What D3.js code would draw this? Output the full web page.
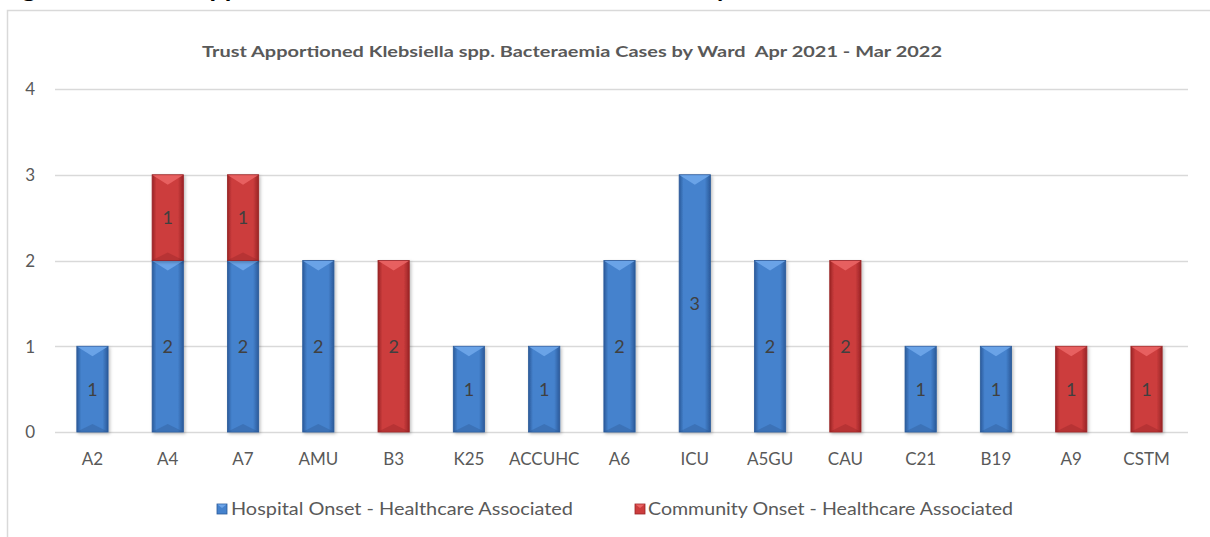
<!DOCTYPE html>
<html>
<head>
<meta charset="utf-8">
<script src="https://cdn.jsdelivr.net/npm/d3@7/dist/d3.min.js"></script>
<style>
  html, body { margin: 0; padding: 0; background: #fff; }
  svg { display: block; }
  text { font-family: Lato, "Liberation Sans", sans-serif; }
</style>
</head>
<body>
<svg id="chart" width="1210" height="537"></svg>
<script>
// Klebsiella spp. bacteraemia cases per ward, Apr 2021 - Mar 2022
const wards = ["A2", "A4", "A7", "AMU", "B3", "K25", "ACCUHC", "A6", "ICU", "A5GU", "CAU", "C21", "B19", "A9", "CSTM"];
const hospitalOnset  = [1, 2, 2, 2, 0, 1, 1, 2, 3, 2, 0, 1, 1, 0, 0];
const communityOnset = [0, 1, 1, 0, 2, 0, 0, 0, 0, 0, 2, 0, 0, 1, 1];
const seriesNames = ["Hospital Onset - Healthcare Associated", "Community Onset - Healthcare Associated"];
const yTicks = [0, 1, 2, 3, 4];

const svg = d3.select("#chart");
const W = 1210;
const margin = { left: 55, right: 22 };

// Palettes: bar edge, bar centre, top bevel highlight, bottom bevel shade
const palettes = [
  { edge: "#2b5a9a", mid: "#4582cd", light: "#6ea6ea", dark: "#2a5690" },
  { edge: "#9a2426", mid: "#cc3d3d", light: "#ea6464", dark: "#8e2224" }
];

const defs = svg.append("defs");
palettes.forEach((p, i) => {
  const g = defs.append("linearGradient").attr("id", "grad" + i)
    .attr("x1", "0").attr("x2", "1").attr("y1", "0").attr("y2", "0");
  g.append("stop").attr("offset", "0").attr("stop-color", p.edge);
  g.append("stop").attr("offset", "0.14").attr("stop-color", p.mid);
  g.append("stop").attr("offset", "0.82").attr("stop-color", p.mid);
  g.append("stop").attr("offset", "1").attr("stop-color", p.edge);
});
const shadow = defs.append("filter").attr("id", "shadow")
  .attr("x", "-30%").attr("y", "-10%").attr("width", "160%").attr("height", "130%");
shadow.append("feDropShadow").attr("dx", 1.5).attr("dy", 1.5).attr("stdDeviation", 1.5)
  .attr("flood-color", "#000").attr("flood-opacity", 0.25);

// Page heading running off the top edge
svg.append("text")
  .attr("x", 0).attr("y", -3)
  .attr("font-size", 24).attr("font-weight", "bold").attr("fill", "#000")
  .attr("textLength", 800).attr("lengthAdjust", "spacingAndGlyphs")
  .text("Figure 12: Trust Apportioned Klebsiella Bacteraemia Cases by Ward");

// Chart frame
svg.append("rect")
  .attr("x", 7.5).attr("y", 10.5).attr("width", 1220).attr("height", 600)
  .attr("fill", "#fff").attr("stroke", "#d9d9d9").attr("stroke-width", 1.5);

// Title
svg.append("text")
  .attr("x", 572).attr("y", 57)
  .attr("text-anchor", "middle")
  .attr("font-size", 16).attr("font-weight", "bold").attr("fill", "#595959")
  .attr("textLength", 740).attr("lengthAdjust", "spacingAndGlyphs")
  .text("Trust Apportioned Klebsiella spp. Bacteraemia Cases by Ward\u00a0\u00a0Apr 2021 - Mar 2022");

const x = d3.scaleBand().domain(wards)
  .range([margin.left, W - margin.right - 4]).paddingInner(0.585).paddingOuter(0.29);
const y = d3.scaleLinear().domain([0, 4]).range([432, 89]);

// Gridlines
svg.append("g").selectAll("line").data(yTicks).join("line")
  .attr("x1", margin.left).attr("x2", 1188)
  .attr("y1", d => Math.round(y(d)) + 0.5).attr("y2", d => Math.round(y(d)) + 0.5)
  .attr("stroke", "#d9d9d9").attr("stroke-width", 1.5);

// Y axis labels
const yAxis = d3.axisLeft(y).tickValues(yTicks).tickSize(0).tickPadding(0).tickFormat(d3.format("d"));
const yg = svg.append("g").attr("transform", "translate(35,0)").call(yAxis);
yg.select(".domain").remove();
yg.selectAll("text").attr("font-size", 17).attr("fill", "#595959")
  .attr("font-family", "Lato, sans-serif").attr("dy", "0.35em");

// X axis labels
const xAxis = d3.axisBottom(x).tickSize(0).tickPadding(0);
const xg = svg.append("g").attr("transform", "translate(0,453)").call(xAxis);
xg.select(".domain").remove();
xg.selectAll("text").attr("font-size", 17).attr("fill", "#595959")
  .attr("font-family", "Lato, sans-serif").attr("dy", "0.71em");

// Stacked data
const rows = wards.map((w, i) => ({ ward: w, h: hospitalOnset[i], c: communityOnset[i] }));
const layers = d3.stack().keys(["h", "c"])(rows);

const bw = x.bandwidth();
layers.forEach((layer, si) => {
  const p = palettes[si];
  const segs = layer.filter(d => d[1] - d[0] > 0).map(d => ({
    x0: x(d.data.ward), y0: y(d[1]), y1: y(d[0]), v: d[1] - d[0]
  }));
  const g = svg.append("g");
  const seg = g.selectAll("g").data(segs).join("g");
  seg.append("rect")
    .attr("x", d => d.x0).attr("y", d => d.y0)
    .attr("width", bw).attr("height", d => d.y1 - d.y0)
    .attr("fill", "url(#grad" + si + ")")
    .attr("stroke", p.edge).attr("stroke-width", 0.8)
    .attr("filter", "url(#shadow)");
  // top bevel
  seg.append("path")
    .attr("d", d => `M${d.x0 + 0.5},${d.y0 + 0.5} L${d.x0 + bw - 0.5},${d.y0 + 0.5} L${d.x0 + bw / 2},${d.y0 + 10} Z`)
    .attr("fill", p.light).attr("opacity", 0.9);
  // bottom bevel shade
  seg.append("path")
    .attr("d", d => `M${d.x0 + 0.5},${d.y1 - 0.5} L${d.x0 + bw - 0.5},${d.y1 - 0.5} L${d.x0 + bw / 2},${d.y1 - 8} Z`)
    .attr("fill", p.dark).attr("opacity", 0.35);
  // value labels
  seg.append("text")
    .attr("x", d => d.x0 + bw / 2).attr("y", d => (d.y0 + d.y1) / 2)
    .attr("dy", "0.36em").attr("text-anchor", "middle")
    .attr("font-size", 18).attr("fill", "#404040")
    .text(d => d.v);
});

// Legend
const legendItems = [
  { name: seriesNames[0], p: palettes[0], mx: 217, tx: 231, len: 342 },
  { name: seriesNames[1], p: palettes[1], mx: 635, tx: 648, len: 365 }
];
const lg = svg.append("g");
legendItems.forEach(it => {
  lg.append("rect").attr("x", it.mx).attr("y", 504).attr("width", 10).attr("height", 10)
    .attr("fill", it.p.mid).attr("stroke", it.p.edge).attr("stroke-width", 0.8);
  lg.append("path").attr("d", `M${it.mx + 0.5},504.5 L${it.mx + 9.5},504.5 L${it.mx + 5},508 Z`)
    .attr("fill", it.p.light);
  lg.append("text").attr("x", it.tx).attr("y", 509).attr("dy", "0.35em")
    .attr("font-size", 17).attr("fill", "#595959")
    .attr("textLength", it.len).attr("lengthAdjust", "spacingAndGlyphs")
    .text(it.name);
});
</script>
</body>
</html>
